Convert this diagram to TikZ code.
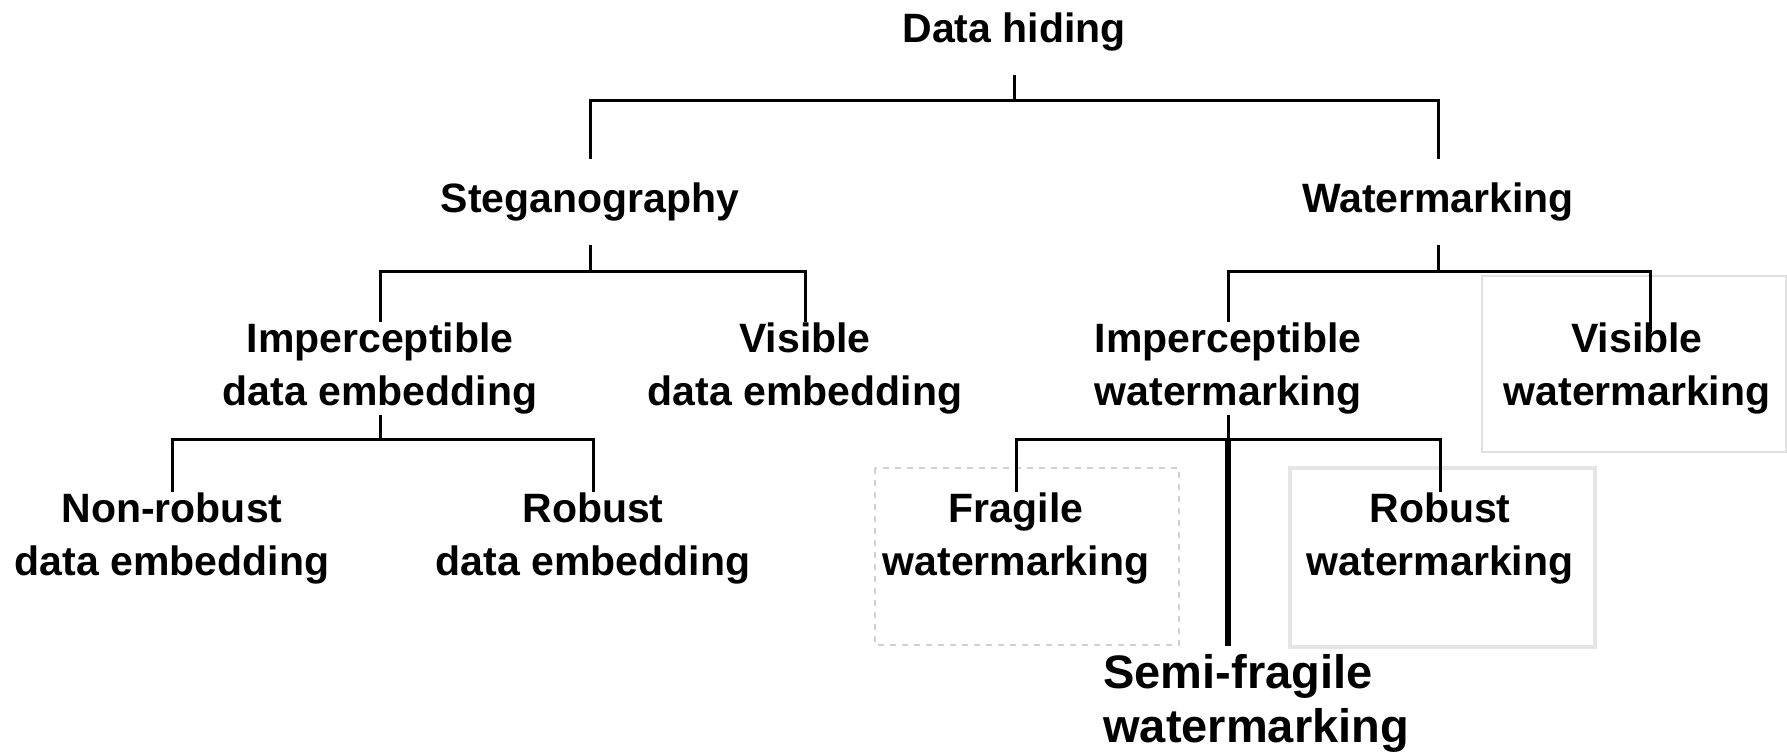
\documentclass[tikz,border=0pt]{standalone}
\usepackage{fontspec}
\setmainfont{Liberation Sans}
\begin{document}
\begin{tikzpicture}[x=0.5pt,y=-0.5pt]
    \tikzstyle{branch} = [line width=1.5pt]
    \tikzstyle{topic} = [font=\fontsize{20.5}{26.5}\selectfont\bfseries,align=center,inner sep=0pt,minimum height=43pt]
    \useasboundingbox (0,0) rectangle (1787,752);
    \draw[black!18,dashed,line width=0.8pt] (875,468) rectangle (1179,645);
    \draw[black!10,line width=2pt] (1290,468) rectangle (1595,647);
    \draw[black!12,line width=0.8pt] (1482,276) rectangle (1786,452);
    \node[topic] (dh) at (1014,32) {Data hiding};
    \node[topic] (steg) at (590,202) {Steganography};
    \node[topic] (wm) at (1438,202) {Watermarking};
    \node[topic] (ide) at (380,368.5) {Imperceptible\\data embedding};
    \node[topic] (vde) at (805,368.5) {Visible\\data embedding};
    \node[topic] (iw) at (1228,368.5) {Imperceptible\\watermarking};
    \node[topic] (vw) at (1637,368.5) {Visible\\watermarking};
    \node[topic] (nrde) at (172,538) {Non-robust\\data embedding};
    \node[topic] (rde) at (593,538) {Robust\\data embedding};
    \node[topic] (fw) at (1016,538) {Fragile\\watermarking};
    \node[topic] (rw) at (1440,538) {Robust\\watermarking};
    \node[topic,anchor=west,align=left,font=\fontsize{23.5}{27}\selectfont\bfseries] (sf) at (1103,703) {Semi-fragile\\watermarking};
    \coordinate (j1) at (1014,100);
    \coordinate (j2) at (590,271);
    \coordinate (j3) at (380,439);
    \coordinate (j4) at (1438,271);
    \coordinate (j5) at (1228,439);
    \draw[branch] (dh.south) -- (j1);
    \draw[branch] (steg.north) |- (j1) -| (wm.north);
    \draw[branch] (steg.south) -- (j2);
    \draw[branch] (ide.north) |- (j2) -| (vde.north);
    \draw[branch] (ide.south) -- (j3);
    \draw[branch] (nrde.north) |- (j3) -| (rde.north);
    \draw[branch] (wm.south) -- (j4);
    \draw[branch] (iw.north) |- (j4) -| ([xshift=6.5pt,yshift=-5pt]vw.north);
    \draw[branch] (iw.south) -- (j5);
    \draw[branch] (fw.north) |- (j5) -| (rw.north);
    \draw[line width=3pt] (j5) -- ([yshift=4pt]j5 |- sf.north);
\end{tikzpicture}
\end{document}
